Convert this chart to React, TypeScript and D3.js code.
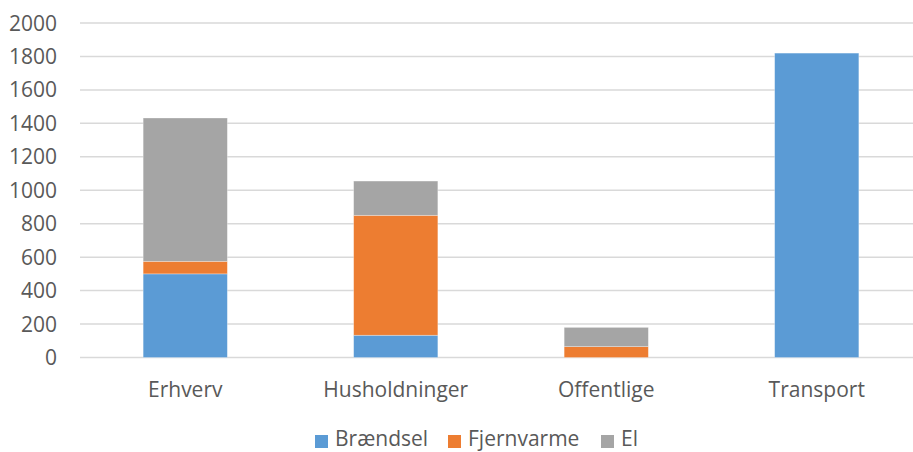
import React from "react";
import * as d3 from "d3";

const categories = ["Erhverv", "Husholdninger", "Offentlige", "Transport"];
const seriesNames = ["Brændsel", "Fjernvarme", "El"];
const braendsel = [500, 133, 0, 1820];
const fjernvarme = [75, 717, 65, 0];
const el = [857, 205, 115, 0];
const yTicks = [0, 200, 400, 600, 800, 1000, 1200, 1400, 1600, 1800, 2000];
const colors = ["#5B9BD5", "#ED7D31", "#A5A5A5"];

const W = 913;
const H = 452;
const FONT = "'Open Sans', sans-serif";

export default function App() {
  const x = d3
    .scaleBand<string>()
    .domain(categories)
    .range([80, 922])
    .paddingInner(0.6)
    .paddingOuter(0.3);
  const y = d3.scaleLinear().domain([0, 2000]).range([357.5, 23]);

  const rows = categories.map((c, i) => ({
    cat: c,
    Brændsel: braendsel[i],
    Fjernvarme: fjernvarme[i],
    El: el[i],
  }));
  const stack = d3.stack<any>().keys(seriesNames)(rows);

  const legendItems = [
    { name: seriesNames[0], x: 315 },
    { name: seriesNames[1], x: 448 },
    { name: seriesNames[2], x: 601 },
  ];

  return (
    <svg
      width={W}
      height={H}
      style={{ position: "absolute", left: 0, top: 0, background: "#fff" }}
    >
      <rect x={0} y={0} width={W} height={H} fill="#fff" />
      {yTicks.map((t) => (
        <g key={t}>
          <line
            x1={80}
            x2={W}
            y1={y(t)}
            y2={y(t)}
            stroke="#D9D9D9"
            strokeWidth={1.5}
          />
          <text
            x={57}
            y={y(t)}
            dy="0.36em"
            textAnchor="end"
            fontFamily={FONT}
            fontSize={21}
            fill="#595959"
          >
            {t}
          </text>
        </g>
      ))}
      {stack.map((s, si) =>
        s.map((d, i) =>
          d[1] - d[0] > 0 ? (
            <rect
              key={si + "-" + i}
              x={x(categories[i])!}
              y={y(d[1])}
              width={x.bandwidth()}
              height={y(d[0]) - y(d[1])}
              fill={colors[si]}
              stroke="#ffffff"
              strokeOpacity={0.4}
              strokeWidth={0.75}
            />
          ) : null
        )
      )}
      {categories.map((c) => (
        <text
          key={c}
          x={x(c)! + x.bandwidth() / 2}
          y={397}
          textAnchor="middle"
          fontFamily={FONT}
          fontSize={21}
          fill="#595959"
        >
          {c}
        </text>
      ))}
      {legendItems.map((l, i) => (
        <g key={l.name}>
          <rect x={l.x} y={435} width={13} height={13} fill={colors[i]} />
          <text
            x={l.x + 20}
            y={446}
            fontFamily={FONT}
            fontSize={21}
            fill="#595959"
          >
            {l.name}
          </text>
        </g>
      ))}
    </svg>
  );
}
